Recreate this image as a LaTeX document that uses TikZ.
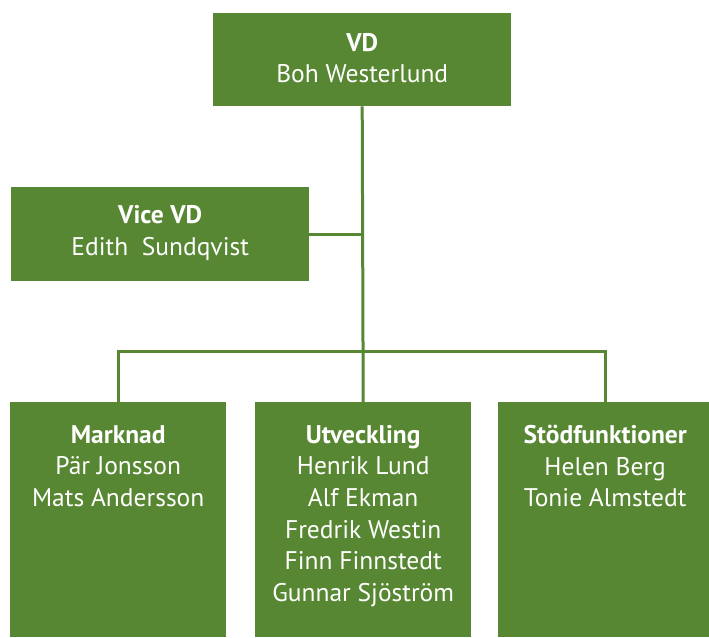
\documentclass[tikz,border=0pt]{standalone}
\usepackage{fontspec}
\setmainfont{PT Sans}
\definecolor{boxgreen}{RGB}{87,135,50}
\begin{document}
\begin{tikzpicture}[x=1pt,y=-1pt,
  box/.style={fill=boxgreen, draw=none, inner sep=0pt, anchor=north west},
  txt/.style={text=white, align=center, font=\fontsize{25.5}{31.6}\selectfont, inner sep=0pt},
  conn/.style={draw=boxgreen, line width=3pt}]
\useasboundingbox (0,0) rectangle (709,637);
% top boxes
\node[box, minimum width=298pt, minimum height=93pt] (vd) at (213,13) {};
\node[txt] (vdt) at ([yshift=1.5pt]vd.center) {\textbf{VD}\\Boh Westerlund};
\node[box, minimum width=298pt, minimum height=94pt] (vice) at (11,187) {};
\node[txt] (vicet) at ([yshift=1pt]vice.center) {\textbf{Vice VD}\\Edith\ \ Sundqvist};
% bottom boxes
\node[box, minimum width=216pt, minimum height=235pt] (mk) at (10,402) {};
\node[box, minimum width=216pt, minimum height=235pt] (ut) at (255,402) {};
\node[box, minimum width=214pt, minimum height=235pt] (st) at (498,402) {};
\node[txt, anchor=north] (mkt) at ([yshift=-23pt]mk.north) {\textbf{Marknad}\\Pär Jonsson\\Mats Andersson};
\node[txt, anchor=north] (utt) at ([yshift=-23pt]ut.north) {\textbf{Utveckling}\\Henrik Lund\\Alf Ekman\\Fredrik Westin\\Finn Finnstedt\\Gunnar Sjöström};
\node[txt, anchor=north] (stt) at ([yshift=-23pt]st.north) {\textbf{Stödfunktioner}\\Helen Berg\\Tonie Almstedt};
% connectors
\coordinate (bus) at (vd.south |- 0,351);
\coordinate (vj) at (vd.south |- vice.east);
\draw[conn] (vd.south) -- (ut.north);
\draw[conn] (vice.east) -- (vj);
\draw[conn] (mk.north) -- (mk.north |- bus) -- (st.north |- bus) -- (st.north);
\end{tikzpicture}
\end{document}
